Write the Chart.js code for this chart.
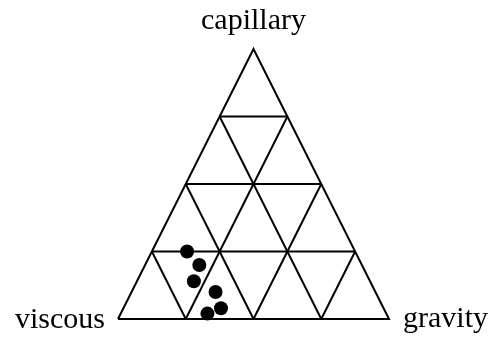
<!DOCTYPE html>
<html>
<head>
<meta charset="utf-8">
<script src="https://cdn.jsdelivr.net/npm/chart.js@4/dist/chart.umd.min.js"></script>
<style>
  html, body { margin: 0; padding: 0; background: #fff; }
</style>
</head>
<body>
<canvas id="ternary" width="490" height="338"></canvas>
<script>
// corner names, in order: bottom left, bottom right, top
var corners = ['viscous', 'gravity', 'capillary'];
// grid levels along each side
var gridLevels = [0.25, 0.5, 0.75];
// measured fractions for each sample
var viscous   = [0.62, 0.60, 0.65, 0.59, 0.60, 0.66];
var gravity   = [0.13, 0.20, 0.21, 0.31, 0.36, 0.32];
var capillary = [0.25, 0.20, 0.14, 0.10, 0.04, 0.02];

// ternary (v, g, c) -> plot coordinates
function toXY(v, g, c) {
    var s = v + g + c;
    return { x: (g + c / 2) / s, y: c / s };
}

var lineStyle = {
    borderColor: '#000',
    borderWidth: 2,
    pointRadius: 0,
    showLine: true,
    fill: false
};

var datasets = [];

// outer triangle
datasets.push(Object.assign({
    data: [toXY(1, 0, 0), toXY(0, 1, 0), toXY(0, 0, 1), toXY(1, 0, 0)]
}, lineStyle));

// inner grid: one line per level parallel to each side
gridLevels.forEach(function (t) {
    datasets.push(Object.assign({ data: [toXY(1 - t, 0, t), toXY(0, 1 - t, t)] }, lineStyle));
    datasets.push(Object.assign({ data: [toXY(t, 1 - t, 0), toXY(t, 0, 1 - t)] }, lineStyle));
    datasets.push(Object.assign({ data: [toXY(1 - t, t, 0), toXY(0, t, 1 - t)] }, lineStyle));
});

// sample points
datasets.push({
    data: viscous.map(function (v, i) { return toXY(v, gravity[i], capillary[i]); }),
    pointRadius: 7,
    pointBackgroundColor: '#000',
    pointBorderColor: '#000',
    pointBorderWidth: 0,
    showLine: false
});

var cornerLabels = {
    id: 'cornerLabels',
    afterDraw: function (chart) {
        var ctx = chart.ctx;
        var xs = chart.scales.x, ys = chart.scales.y;
        ctx.save();
        ctx.fillStyle = '#000';
        ctx.font = '30px "Liberation Serif", "Times New Roman", serif';
        ctx.textBaseline = 'alphabetic';
        // top
        ctx.textAlign = 'center';
        ctx.fillText(corners[2], xs.getPixelForValue(0.5), ys.getPixelForValue(1) - 20);
        // bottom left
        ctx.textAlign = 'right';
        ctx.fillText(corners[0], xs.getPixelForValue(0) - 13, ys.getPixelForValue(0) + 9);
        // bottom right
        ctx.textAlign = 'left';
        ctx.fillText(corners[1], xs.getPixelForValue(1) + 14, ys.getPixelForValue(0) + 8);
        ctx.restore();
    }
};

var chart = new Chart(document.getElementById('ternary').getContext('2d'), {
    type: 'scatter',
    data: { datasets: datasets },
    options: {
        responsive: false,
        animation: false,
        clip: false,
        layout: { padding: { left: 118, right: 101, top: 49, bottom: 19 } },
        plugins: { legend: { display: false }, tooltip: { enabled: false } },
        scales: {
            x: { type: 'linear', min: 0, max: 1, display: false },
            y: { type: 'linear', min: 0, max: 1, display: false }
        }
    },
    plugins: [cornerLabels]
});
</script>
</body>
</html>
